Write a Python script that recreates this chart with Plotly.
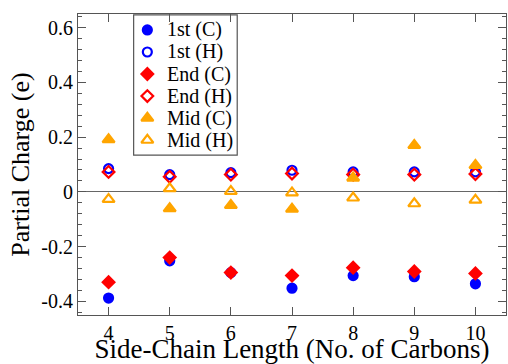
import plotly.graph_objects as go

# Side-chain length (number of carbons)
chain_length = [4, 5, 6, 7, 8, 9, 10]

# Partial charges (e) per atom group
first_c = [-0.388, -0.252, -0.295, -0.352, -0.306, -0.310, -0.336]
first_h = [0.085, 0.063, 0.070, 0.079, 0.073, 0.073, 0.073]
end_c = [-0.330, -0.240, -0.295, -0.306, -0.277, -0.291, -0.298]
end_h = [0.073, 0.055, 0.063, 0.067, 0.063, 0.063, 0.065]
mid_c = [0.191, -0.061, -0.049, -0.063, 0.051, 0.170, 0.097]
mid_h = [-0.027, 0.012, 0.002, -0.003, -0.022, -0.043, -0.030]

x_ticks = [4, 5, 6, 7, 8, 9, 10]
y_ticks = [-0.4, -0.2, 0, 0.2, 0.4, 0.6]
y_labels = ["-0.4", "-0.2", "0", "0.2", "0.4", "0.6"]

BLUE = "#0000ff"
RED = "#ff0000"
ORANGE = "#ffa500"
SERIF = "Liberation Serif"
FRAME = "#555555"

series = [
    ("1st (C)", first_c, "circle", BLUE),
    ("1st (H)", first_h, "circle-open", BLUE),
    ("End (C)", end_c, "diamond", RED),
    ("End (H)", end_h, "diamond-open", RED),
    ("Mid (C)", mid_c, "triangle-up", ORANGE),
    ("Mid (H)", mid_h, "triangle-up-open", ORANGE),
]


def marker_style(sym, col):
    return dict(symbol=sym, color=col, size=10.5 if "triangle" in sym else 9,
                line=dict(color=col, width=2.2))


fig = go.Figure()
for name, vals, sym, col in series:
    fig.add_trace(go.Scatter(
        x=chain_length, y=vals, mode="markers", name=name,
        marker=marker_style(sym, col), showlegend=False,
    ))

# Boxed key in the upper left, laid out on an overlay axis spanning [0, 1]
key_left, key_right, key_top, key_bottom = 0.130, 0.372, 0.997, 0.531
key_first_row, key_row_step = 0.947, 0.0732
key_symbol_x, key_text_x = 0.162, 0.203
fig.add_shape(type="rect", xref="paper", yref="paper",
              x0=key_left, x1=key_right, y0=key_bottom, y1=key_top,
              line=dict(color=FRAME, width=1.2), fillcolor="white", layer="below")
for i, (name, _, sym, col) in enumerate(series):
    row_y = key_first_row - i * key_row_step
    fig.add_trace(go.Scatter(
        x=[key_symbol_x], y=[row_y], xaxis="x2", yaxis="y2", mode="markers",
        marker=marker_style(sym, col), showlegend=False, hoverinfo="skip",
    ))
    fig.add_annotation(
        x=key_text_x, y=row_y, xref="paper", yref="paper", text=name,
        showarrow=False, xanchor="left", yanchor="middle",
        font=dict(family=SERIF, size=20, color="black"),
    )

axis_common = dict(
    showline=True, linecolor=FRAME, linewidth=1.2, mirror="ticks",
    ticks="inside", tickcolor=FRAME, ticklen=8, tickwidth=1.2,
    showgrid=False, tickfont=dict(family=SERIF, size=20, color="black"),
)

fig.update_xaxes(
    range=[3.5, 10.5], tickvals=x_ticks, ticktext=[str(v) for v in x_ticks],
    zeroline=False,
    title=dict(text="Side-Chain Length (No. of Carbons)",
               font=dict(family=SERIF, size=27, color="black"), standoff=0),
    **axis_common,
)
fig.update_yaxes(
    range=[-0.45, 0.65], tickvals=y_ticks, ticktext=y_labels,
    zeroline=True, zerolinecolor="#666666", zerolinewidth=1,
    minor=dict(dtick=0.04, tick0=0, ticks="inside", ticklen=4,
               tickcolor=FRAME, tickwidth=1),
    title=dict(text="Partial Charge (e)",
               font=dict(family=SERIF, size=26, color="black"), standoff=4),
    **axis_common,
)

fig.update_layout(
    width=508, height=364,
    margin=dict(l=78, r=1, t=14, b=47),
    plot_bgcolor="white", paper_bgcolor="white",
    showlegend=False,
    xaxis2=dict(overlaying="x", range=[0, 1], visible=False, fixedrange=True),
    yaxis2=dict(overlaying="y", range=[0, 1], visible=False, fixedrange=True),
)

fig.write_html("out.html")
